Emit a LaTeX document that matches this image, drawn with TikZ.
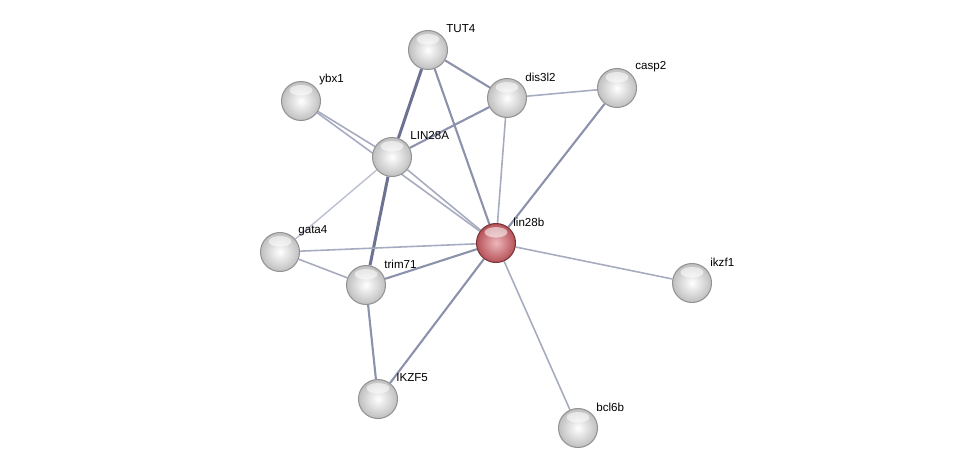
\documentclass[tikz,border=0pt]{standalone}
\usepackage{fontspec}
\setmainfont{Liberation Sans}
\usetikzlibrary{calc,backgrounds}
\definecolor{edgedark}{RGB}{108,115,146}
\definecolor{edgemid}{RGB}{140,146,172}
\definecolor{edgelight}{RGB}{166,171,192}
\definecolor{edgepale}{RGB}{188,192,208}
\definecolor{ballred}{RGB}{214,96,104}

\begin{document}
\begin{tikzpicture}[x=0.02cm,y=-0.02cm,
    prot/.style={circle,minimum size=0.78cm,inner sep=0pt,
      draw=gray!85,line width=0.6pt,shading=radial,
      inner color=white,outer color=gray!50,
      path picture={\fill[white,opacity=0.55]
        ($(path picture bounding box.north)+(0pt,-5pt)$)
        ellipse (6.5pt and 3pt);}},
    query/.style={prot,draw=ballred!55!black,
      inner color=ballred!45!white,outer color=ballred!85!black},
    lbl/.style={font=\fontsize{6.6}{7}\selectfont,anchor=west,inner sep=0pt},
    strong/.style={draw=edgedark,line width=1.7pt},
    medium/.style={draw=edgemid,line width=1.2pt},
    weak/.style={draw=edgelight,line width=0.9pt},
    faint/.style={draw=edgepale,line width=0.8pt}]
  \useasboundingbox (0,0) rectangle (976,473);
  %% Proteins
  \foreach \id/\px/\py/\txt in {tut4/428/50/TUT4, ybx1/301/101/ybx1,
      dis3l2/507/98/dis3l2, casp2/617/88/casp2, lin28a/392/157/LIN28A,
      gata4/280/252/gata4, trim71/366/285/trim71, ikzf1/692/283/ikzf1,
      ikzf5/378/399/IKZF5, bcl6b/578/428/bcl6b}{
    \node[prot] (\id) at (\px,\py) {};
    \node[lbl] (\id-l) at ($(\id)+(18,-21)$) {\txt};
  }
  %% Query protein
  \node[query] (lin28b) at (496,243) {};
  \node[lbl] (lin28b-l) at ($(lin28b)+(17,-21)$) {lin28b};
  %% Interactions
  \begin{scope}[on background layer]
    \draw[strong] (tut4) -- (lin28a);
    \draw[strong] (lin28a) -- (trim71);
    \draw[medium] (tut4) -- (dis3l2);
    \draw[medium] (tut4) -- (lin28b);
    \draw[medium] (dis3l2) -- (lin28a);
    \draw[medium] (casp2) -- (lin28b);
    \draw[medium] (ikzf5) -- (lin28b);
    \draw[medium] (trim71) -- (ikzf5);
    \draw[medium] (trim71) -- (lin28b);
    \draw[weak] (ybx1) -- (lin28a);
    \draw[weak] (ybx1) -- (lin28b);
    \draw[weak] (lin28a) -- (lin28b);
    \draw[weak] (dis3l2) -- (casp2);
    \draw[weak] (dis3l2) -- (lin28b);
    \draw[weak] (gata4) -- (lin28b);
    \draw[weak] (gata4) -- (trim71);
    \draw[weak] (lin28b) -- (ikzf1);
    \draw[weak] (lin28b) -- (bcl6b);
    \draw[faint] (lin28a) -- (gata4);
  \end{scope}
\end{tikzpicture}
\end{document}
